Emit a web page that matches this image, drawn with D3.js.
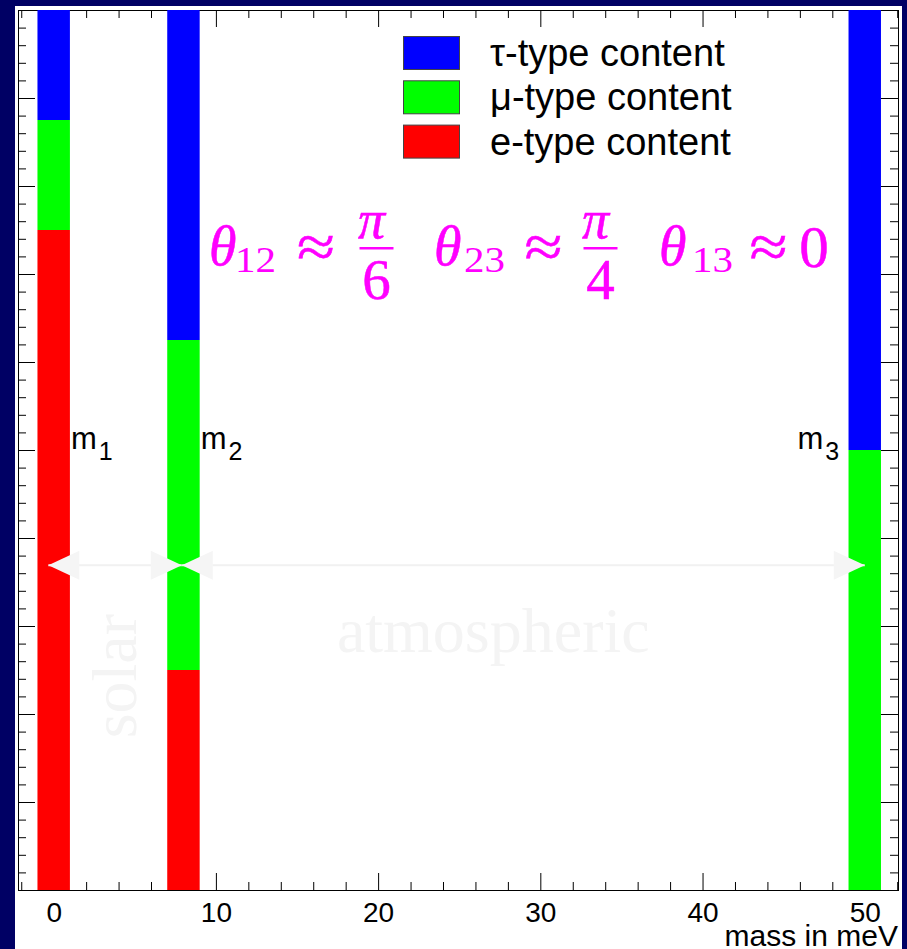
<!DOCTYPE html>
<html>
<head>
<meta charset="utf-8">
<script src="https://cdn.jsdelivr.net/npm/d3@7"></script>
<style>
  html, body { margin: 0; padding: 0; background: #000064; }
  svg { display: block; }
</style>
</head>
<body>
<svg id="chart" width="907" height="949"></svg>
<script>
// Neutrino mass eigenstates (meV) and their flavour content
const massValues = [0, 8, 50];
const massIndex = ["1", "2", "3"];
const eContent = [0.75, 0.25, 0];
const muContent = [0.125, 0.375, 0.5];
const tauContent = [0.125, 0.375, 0.5];
const barHalfWidth = 1;
const flavourKeys = ["e", "μ", "τ"];
const legendKeys = ["τ", "μ", "e"];
const legendLabels = ["τ-type content", "μ-type content", "e-type content"];
const xTickValues = [0, 10, 20, 30, 40, 50];
const xTickLabels = ["0", "10", "20", "30", "40", "50"];
const xTitle = "mass in meV";

// Mass splittings drawn as double arrows
const solarArrow = [-0.33, 7.9];
const atmosphericArrow = [7.9, 50];
const arrowLevel = 0.369;

// Mixing angles
const angleSubscripts = ["12", "23", "13"];
const angleNumerators = ["π", "π", null];
const angleDenominators = ["6", "4", null];
const angleConstants = [null, null, "0"];

const SANS = "'Liberation Sans', Arial, sans-serif";
const SERIF = "'Liberation Serif', 'Times New Roman', serif";
const colours = { "e": "#ff0000", "μ": "#00ff00", "τ": "#0000ff" };
const MAGENTA = "#ff00ff";
const FAINT = "#f4f4f4";

const svg = d3.select("#chart");
const x = d3.scaleLinear().domain([-2.2, 52.05]).range([18, 898]);
const y = d3.scaleLinear().domain([0, 1]).range([890, 10]);

// page + canvas
svg.append("rect").attr("width", 907).attr("height", 949).attr("fill", "#000064");
svg.append("rect").attr("x", 15).attr("y", 6).attr("width", 887).attr("height", 943).attr("fill", "#ffffff");

// ---- axes (ticks on all four sides, pointing inwards) ----
const xMinor = d3.range(-2, 53, 2).filter(v => v % 10 !== 0);
const yMajor = d3.range(0, 11).map(i => i / 10);
const yMinor = d3.range(0, 51).filter(i => i % 5 !== 0).map(i => i / 50);
const MAJ = 17, MIN = 8;

function addAxis(gen, tx, ty) {
  const g = svg.append("g").attr("transform", `translate(${tx},${ty})`).call(gen);
  g.select(".domain").remove();
  g.selectAll("line").attr("stroke", "#000").attr("stroke-width", 1);
  return g;
}
const none = () => "";

const bottomMajor = addAxis(
  d3.axisBottom(x).tickValues(xTickValues).tickSizeInner(-MAJ).tickSizeOuter(0)
    .tickPadding(12).tickFormat((d, i) => xTickLabels[i]), 0, y.range()[0]);
bottomMajor.attr("font-family", SANS).attr("font-size", 28);
bottomMajor.selectAll("text").attr("fill", "#000");
addAxis(d3.axisBottom(x).tickValues(xMinor).tickSizeInner(-MIN).tickSizeOuter(0).tickFormat(none), 0, y.range()[0]);
addAxis(d3.axisTop(x).tickValues(xTickValues).tickSizeInner(-MAJ).tickSizeOuter(0).tickFormat(none), 0, y.range()[1]);
addAxis(d3.axisTop(x).tickValues(xMinor).tickSizeInner(-MIN).tickSizeOuter(0).tickFormat(none), 0, y.range()[1]);
addAxis(d3.axisLeft(y).tickValues(yMajor).tickSizeInner(-MAJ).tickSizeOuter(0).tickFormat(none), x.range()[0], 0);
addAxis(d3.axisLeft(y).tickValues(yMinor).tickSizeInner(-MIN).tickSizeOuter(0).tickFormat(none), x.range()[0], 0);
addAxis(d3.axisRight(y).tickValues(yMajor).tickSizeInner(-MAJ).tickSizeOuter(0).tickFormat(none), x.range()[1], 0);
addAxis(d3.axisRight(y).tickValues(yMinor).tickSizeInner(-MIN).tickSizeOuter(0).tickFormat(none), x.range()[1], 0);

// frame
svg.append("rect")
  .attr("x", x.range()[0] + 0.5).attr("y", y.range()[1] + 0.5)
  .attr("width", x.range()[1] - x.range()[0]).attr("height", y.range()[0] - y.range()[1])
  .attr("fill", "none").attr("stroke", "#000").attr("stroke-width", 1);

// axis title
svg.append("text")
  .attr("x", x.range()[1]).attr("y", 946)
  .attr("text-anchor", "end").attr("font-family", SANS).attr("font-size", 30)
  .attr("fill", "#000").text(xTitle);

// ---- stacked flavour bars ----
const rows = massValues.map((m, i) => ({ mass: m, "e": eContent[i], "μ": muContent[i], "τ": tauContent[i] }));
const stack = d3.stack().keys(flavourKeys)(rows);
svg.append("g").selectAll("g").data(stack).join("g")
  .attr("fill", s => colours[s.key])
  .selectAll("rect").data(s => s).join("rect")
  .attr("x", d => x(d.data.mass - barHalfWidth))
  .attr("width", d => x(d.data.mass + barHalfWidth) - x(d.data.mass - barHalfWidth))
  .attr("y", d => y(d[1]))
  .attr("height", d => y(d[0]) - y(d[1]));

// ---- faint splitting arrows and their names ----
const arrowY = y(arrowLevel);
const HEAD_L = 31, HEAD_H = 14.5;
function doubleArrow([a, b]) {
  const x0 = x(a), x1 = x(b);
  svg.append("line").attr("x1", x0).attr("x2", x1).attr("y1", arrowY).attr("y2", arrowY)
    .attr("stroke", "#f1f1f1").attr("stroke-width", 2);
  svg.append("path")
    .attr("d", `M${x0},${arrowY}L${x0 + HEAD_L},${arrowY - HEAD_H}L${x0 + HEAD_L},${arrowY + HEAD_H}Z`)
    .attr("fill", "#f5f5f5");
  svg.append("path")
    .attr("d", `M${x1},${arrowY}L${x1 - HEAD_L},${arrowY - HEAD_H}L${x1 - HEAD_L},${arrowY + HEAD_H}Z`)
    .attr("fill", "#f5f5f5");
}
doubleArrow(solarArrow);
doubleArrow(atmosphericArrow);

svg.append("text")
  .attr("transform", `translate(${x(5.07)},${y(0.243)}) rotate(-90)`)
  .attr("text-anchor", "middle").attr("font-family", SERIF).attr("font-size", 64)
  .attr("fill", FAINT).text("solar");
svg.append("text")
  .attr("x", x(27.1)).attr("y", y(0.27))
  .attr("text-anchor", "middle").attr("font-family", SERIF).attr("font-size", 64)
  .attr("fill", FAINT).text("atmospheric");

// ---- mass eigenstate labels ----
const labelX = [x(massValues[0] + barHalfWidth) + 1, x(massValues[1] + barHalfWidth) + 1, x(massValues[2] - barHalfWidth) - 51];
massIndex.forEach((k, i) => {
  const t = svg.append("text").attr("x", labelX[i]).attr("y", y(0.5) - 1)
    .attr("font-family", SANS).attr("font-size", 31).attr("fill", "#000");
  t.append("tspan").text("m");
  t.append("tspan").attr("dx", 2).attr("dy", 11).attr("font-size", 25).text(k);
});

// ---- legend ----
const legend = svg.append("g");
legendKeys.forEach((k, i) => {
  const top = 36 + i * 44.3;
  legend.append("rect").attr("x", 403.5).attr("y", top + 0.5).attr("width", 56).attr("height", 33)
    .attr("fill", colours[k]).attr("stroke", "#444").attr("stroke-width", 1);
  legend.append("text").attr("x", 490).attr("y", top + 30)
    .attr("font-family", SANS).attr("font-size", 38).attr("fill", "#000").text(legendLabels[i]);
});

// ---- mixing-angle formula ----
const formula = svg.append("g").attr("fill", MAGENTA).attr("stroke", MAGENTA)
  .attr("stroke-width", 0.5).attr("font-family", SERIF);
const thetaX = [209, 434, 659];
const subX = [235, 464, 692];
const approxX = [316, 543.5, 768.5];
const valueX = [376.5, 600.5, 814];
angleSubscripts.forEach((s, i) => {
  formula.append("text").attr("x", thetaX[i]).attr("y", 265)
    .attr("font-size", 56).attr("font-style", "italic").text("θ");
  formula.append("text").attr("x", subX[i]).attr("y", 272).attr("stroke", "none")
    .attr("font-size", 35).attr("textLength", 41).attr("lengthAdjust", "spacingAndGlyphs").text(s);
  formula.append("text").attr("x", approxX[i]).attr("y", 267).attr("text-anchor", "middle")
    .attr("font-size", 60).attr("textLength", 38).attr("lengthAdjust", "spacingAndGlyphs").text("≈");
  if (angleNumerators[i]) {
    formula.append("text").attr("x", valueX[i] - 5).attr("y", 238).attr("text-anchor", "middle")
      .attr("font-size", 54).attr("font-style", "italic").text(angleNumerators[i]);
    formula.append("rect").attr("x", valueX[i] - 17).attr("y", 247).attr("width", 34).attr("height", 2.5)
      .attr("stroke", "none");
    formula.append("text").attr("x", valueX[i]).attr("y", 299).attr("text-anchor", "middle")
      .attr("font-size", 57).text(angleDenominators[i]);
  } else {
    formula.append("text").attr("x", valueX[i]).attr("y", 267).attr("text-anchor", "middle")
      .attr("font-size", 59).text(angleConstants[i]);
  }
});
</script>
</body>
</html>
